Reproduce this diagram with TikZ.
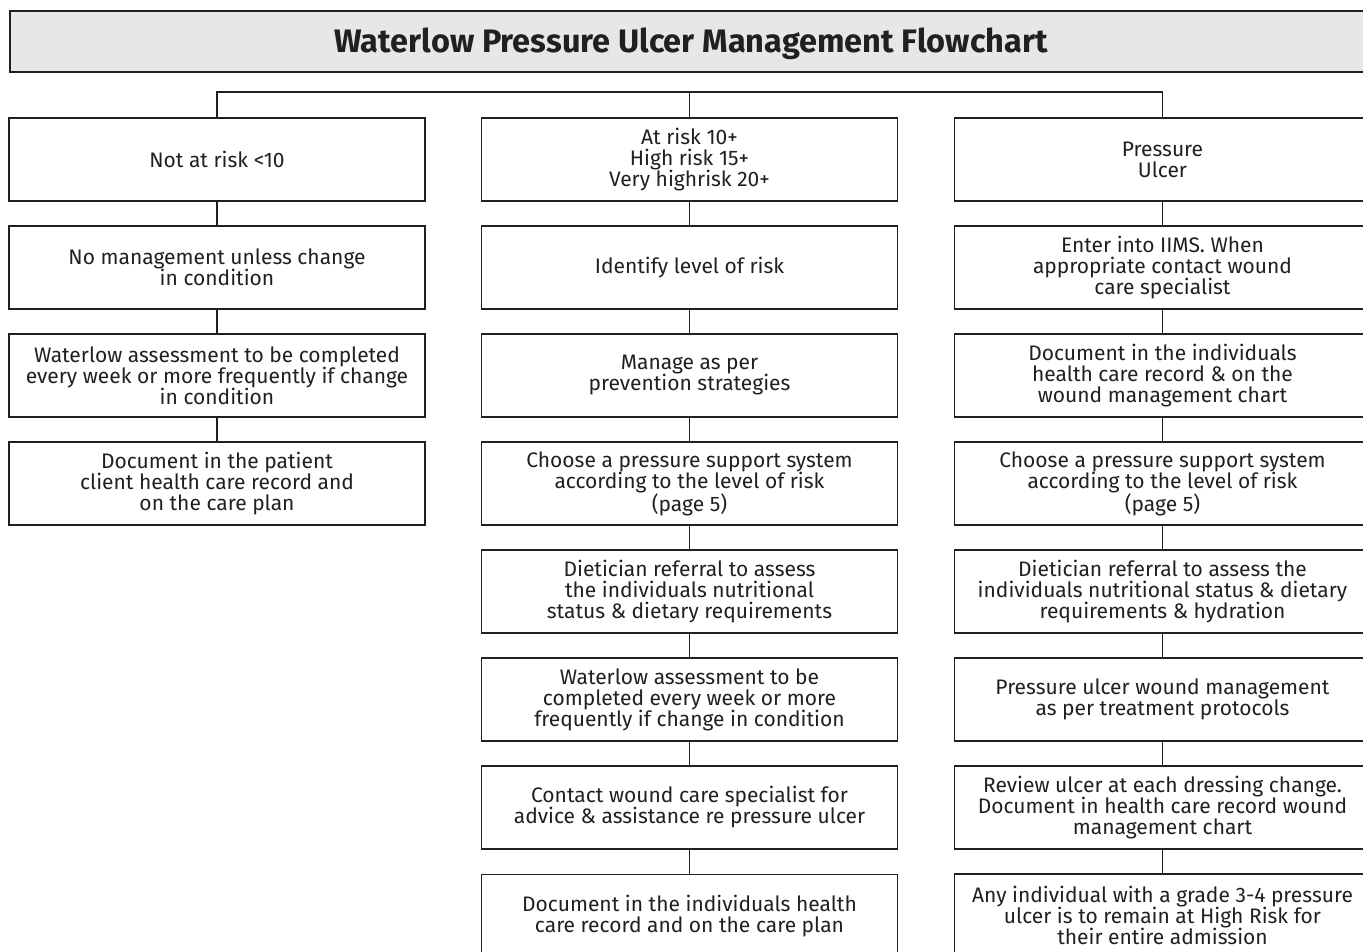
\documentclass[tikz,border=0pt]{standalone}
\usepackage{fontspec}
\setmainfont{Fira Sans}
\definecolor{ink}{HTML}{231F20}
\definecolor{titlefill}{HTML}{E6E7E8}
\begin{document}
\begin{tikzpicture}[x=1pt,y=-1pt,
  box/.style={draw=ink, line width=1.6pt, fill=white, minimum width=416pt, minimum height=83pt,
    align=center, inner sep=0pt, text=ink, font=\fontsize{21}{21}\selectfont},
  link/.style={draw=ink, line width=1.1pt}]
\useasboundingbox (0,0) rectangle (1363,952);
\clip (0,0) rectangle (1363,952);
\node[draw=ink, line width=1.6pt, fill=titlefill, minimum width=1400pt, minimum height=61pt, anchor=north west, inner sep=0pt] (T) at (9,10) {};
\node[text=ink, font=\fontsize{32.5}{34}\selectfont\bfseries] (Tt) at (691,43.5) {Waterlow Pressure Ulcer Management Flowchart};
\def\rowy#1{159.5+108*#1}
% left column
\node[box] (L1) at (217,{\rowy{0}}) {Not at risk <10};
\node[box] (L2) at (217,{\rowy{1}}) {No management unless change\\in condition};
\node[box] (L3) at (217,{\rowy{2}}) {Waterlow assessment to be completed\\every week or more frequently if change\\in condition};
\node[box] (L4) at (217,{\rowy{3}}) {Document in the patient\\client health care record and\\on the care plan};
% middle column
\node[box] (M1) at (689.5,{\rowy{0}}) {At risk 10+\\High risk 15+\\Very highrisk 20+};
\node[box] (M2) at (689.5,{\rowy{1}}) {Identify level of risk};
\node[box] (M3) at (689.5,{\rowy{2}}) {Manage as per\\prevention strategies};
\node[box] (M4) at (689.5,{\rowy{3}}) {Choose a pressure support system\\according to the level of risk\\(page 5)};
\node[box] (M5) at (689.5,{\rowy{4}}) {Dietician referral to assess\\the individuals nutritional\\status \& dietary requirements};
\node[box] (M6) at (689.5,{\rowy{5}}) {Waterlow assessment to be\\completed every week or more\\frequently if change in condition};
\node[box] (M7) at (689.5,{\rowy{6}}) {Contact wound care specialist for\\advice \& assistance re pressure ulcer};
\node[box, yshift=-0.5pt] (M8) at (689.5,{\rowy{7}}) {Document in the individuals health\\care record and on the care plan};
% right column
\node[box] (R1) at (1162.5,{\rowy{0}}) {Pressure\\Ulcer};
\node[box] (R2) at (1162.5,{\rowy{1}}) {Enter into IIMS. When\\appropriate contact wound\\care specialist};
\node[box] (R3) at (1162.5,{\rowy{2}}) {Document in the individuals\\health care record \& on the\\wound management chart};
\node[box] (R4) at (1162.5,{\rowy{3}}) {Choose a pressure support system\\according to the level of risk\\(page 5)};
\node[box] (R5) at (1162.5,{\rowy{4}}) {Dietician referral to assess the\\individuals nutritional status \& dietary\\requirements \& hydration};
\node[box] (R6) at (1162.5,{\rowy{5}}) {Pressure ulcer wound management\\as per treatment protocols};
\node[box] (R7) at (1162.5,{\rowy{6}}) {Review ulcer at each dressing change.\\Document in health care record wound\\management chart};
\node[box] (R8) at (1162.5,{\rowy{7}}) {Any individual with a grade 3-4 pressure\\ulcer is to remain at High Risk for\\their entire admission};
% connectors
\coordinate (top) at (689.5,92);
\draw[link] (L1.north) |- (top) -| (R1.north);
\draw[link] (M1.north) -- (top);
\foreach \c/\n in {L/3, M/7, R/7} {
  \foreach \i in {1,...,\n} {
    \pgfmathtruncatemacro{\j}{\i+1}
    \draw[link] (\c\i.south) -- (\c\j.north);
  }
}
\end{tikzpicture}
\end{document}
